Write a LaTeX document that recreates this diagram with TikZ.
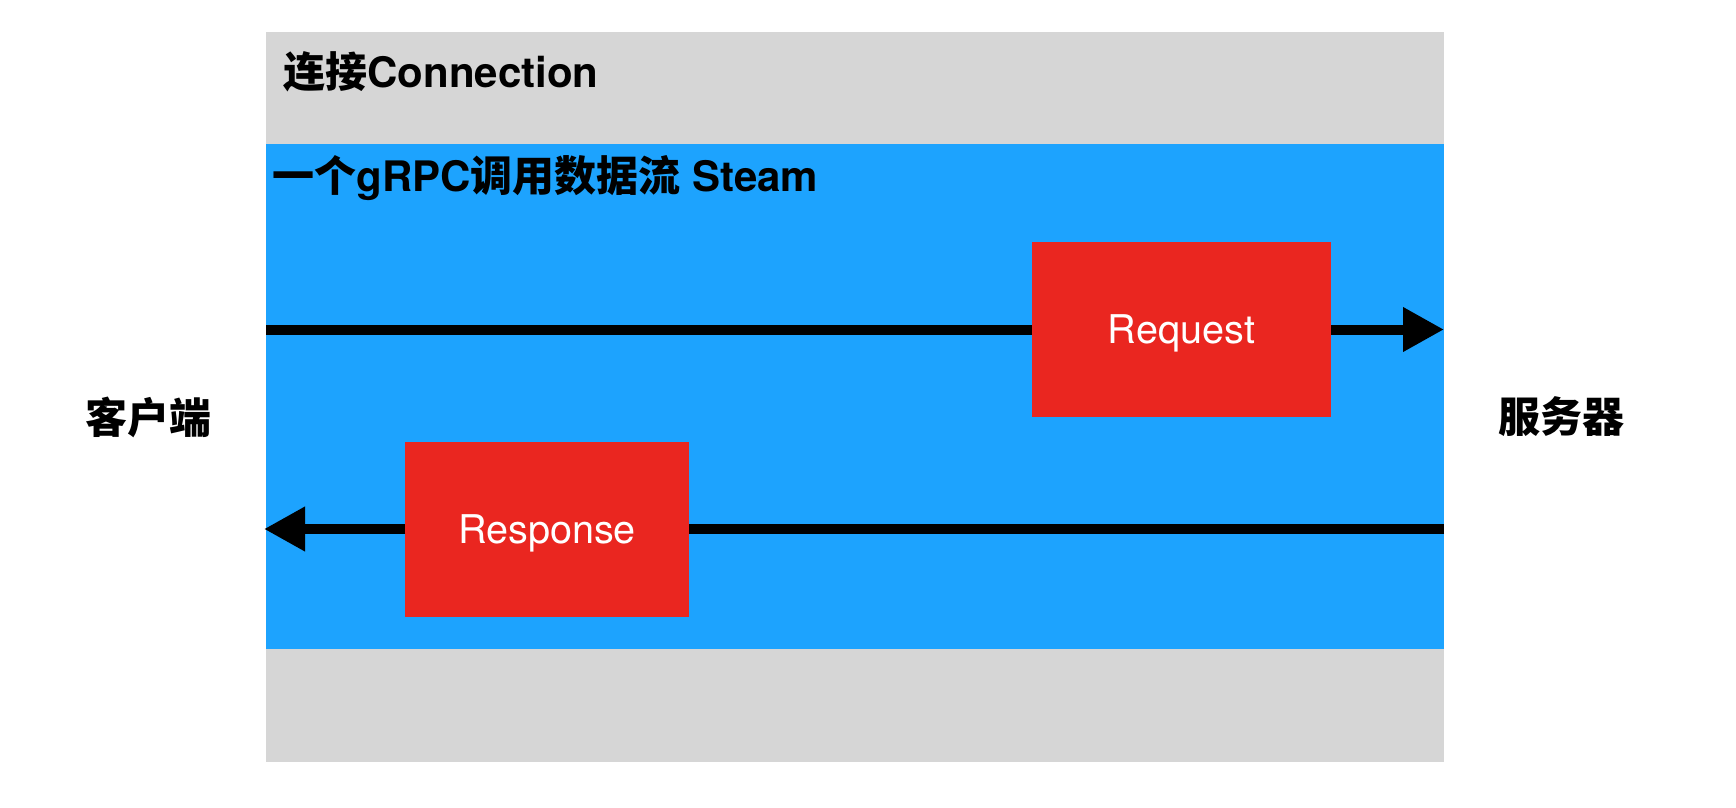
\documentclass[tikz,border=0pt]{standalone}
\usepackage{fontspec}
\setmainfont{TeX Gyre Heros}
\newfontfamily\cjk{Noto Sans CJK SC}
\usetikzlibrary{arrows.meta,positioning}
\definecolor{ConnGray}{HTML}{D6D6D6}
\definecolor{StreamBlue}{HTML}{1DA3FE}
\definecolor{MsgRed}{HTML}{EA2620}
\tikzset{
  band/.style={
    rectangle,
    inner sep=0pt,
    outer sep=0pt,
    minimum width=589pt,
  },
  msgbox/.style={
    rectangle,
    fill=MsgRed,
    inner sep=0pt,
    outer sep=0pt,
    minimum height=87.5pt,
    text height=14pt,
    text depth=0pt,
    text=white,
    font=\fontsize{19.8}{22}\selectfont,
  },
  bandtitle/.style={
    anchor=west,
    inner sep=0pt,
    font=\fontsize{21}{24}\selectfont\bfseries,
  },
  peer/.style={
    inner sep=0pt,
    font=\cjk\bfseries\fontsize{21}{24}\selectfont,
  },
  wire/.style={
    line width=5pt,
    draw=black,
  },
  flow/.style={
    wire,
    -{Triangle[length=20.5pt,width=21pt]},
  }
}

\begin{document}
\begin{tikzpicture}[x=0.5pt,y=-0.5pt]
  \useasboundingbox[fill=white] (0,0) rectangle (1736,808);

  % connection and stream bands
  \node[band, fill=ConnGray, minimum height=365pt] (conn) at (855,397) {};
  \node[band, fill=StreamBlue, minimum height=252.5pt] (stream) at (855,396.5) {};

  \node[bandtitle] (conntitle) at (283,72) {{\cjk 连接}Connection};
  \node[bandtitle] (streamtitle) at (272,178) {{\cjk 一个}gRPC{\cjk 调用数据流} Steam};

  % messages
  \node[msgbox, minimum width=149.5pt] (request) at (1181.5,329.5) {Request};
  \node[msgbox, minimum width=142pt] (response) at (547,529) {Response};

  \draw[wire] (stream.west |- request) -- (request.west);
  \draw[flow] (request.east) -- (stream.east |- request);
  \draw[wire] (stream.east |- response) -- (response.east);
  \draw[flow] (response.west) -- ([xshift=-1pt]stream.west |- response);

  % peers
  \node[peer] (client) at (148.5,417) {客户端};
  \node[peer] (server) at (1561,417) {服务器};
\end{tikzpicture}
\end{document}
